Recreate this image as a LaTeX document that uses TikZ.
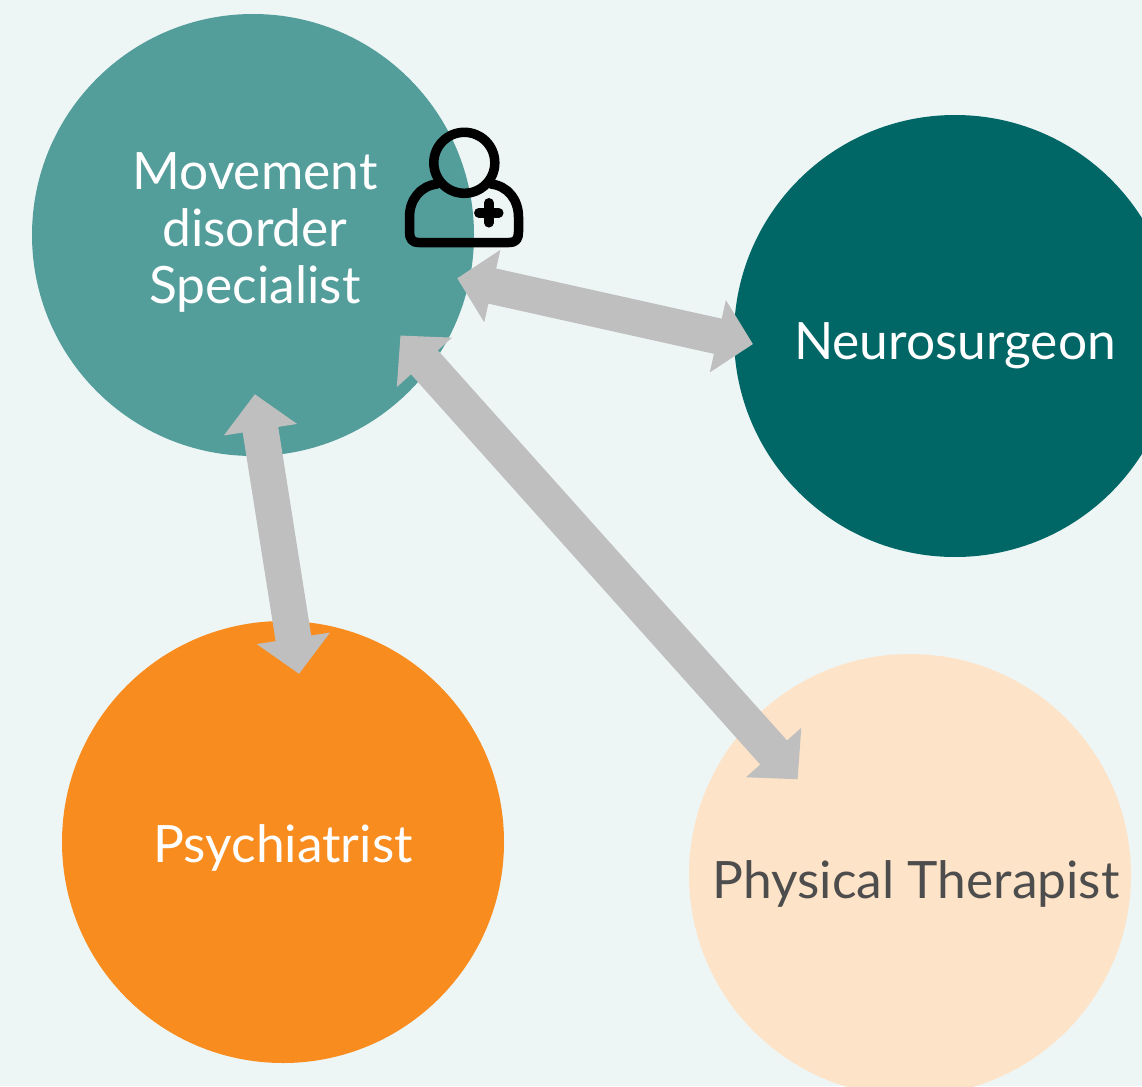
\documentclass[tikz,border=0pt]{standalone}
\usepackage{fontspec}
\setmainfont{Lato}
\usetikzlibrary{arrows.meta}
\definecolor{bgmint}{HTML}{EEF6F5}
\definecolor{mdsteal}{HTML}{539D9B}
\definecolor{neuroteal}{HTML}{006666}
\definecolor{psychorange}{HTML}{F88C1F}
\definecolor{physpeach}{HTML}{FDE3C7}
\definecolor{physgrey}{HTML}{4D4D4D}
\definecolor{linkgrey}{HTML}{BFBFBF}
\tikzset{
  role/.style={circle, minimum size=442pt, inner sep=0pt, outer sep=0pt},
  rolelabel/.style={inner sep=0pt, align=center, text=white, font=\fontsize{51.5}{57}\selectfont},
  link/.style={draw=linkgrey, line width=36pt, {Triangle[length=36pt,width=72pt]}-{Triangle[length=36pt,width=72pt]}},
  iconline/.style={draw=black, line width=9.5pt, line cap=round, line join=round}
}
\begin{document}
\begin{tikzpicture}[x=1pt,y=-1pt]
\useasboundingbox (0,0) rectangle (1142,1086);
\clip (0,0) rectangle (1142,1086);
\fill[bgmint] (0,0) rectangle (1142,1086);
\node[role, fill=mdsteal, label={[rolelabel, xshift=2pt, yshift=3pt]center:Movement\\disorder\\Specialist}] (mds) at (253,235){};
\node[role, fill=neuroteal, label={[rolelabel, yshift=-10pt]center:Neurosurgeon}] (neuro) at (955,336){};
\node[role, fill=psychorange, label={[rolelabel, yshift=-6pt]center:Psychiatrist}] (psych) at (283,842){};
\node[role, fill=physpeach, label={[rolelabel, text=physgrey, xshift=6pt, yshift=-9pt]center:Physical Therapist}] (phys) at (910,875){};
\draw[link, shorten <=-12.3pt, shorten >=-19.4pt](mds.-12.9) -- (neuro.181);
\draw[link, shorten <=-62.3pt, shorten >=-53.4pt](mds.-87) -- (psych.88.7);
\draw[link, shorten <=-43.6pt, shorten >=-73.9pt](mds.-37.2) -- (phys.137.2);
\draw[iconline] (464.3,162.8) circle (30.5);
\draw[iconline] (437,184) .. controls (420,186) and (409.5,200) .. (409.5,217) -- (409.5,232) .. controls (409.5,239) and (412,242.5) .. (419,242.5) -- (509,242.5) .. controls (516,242.5) and (518.5,239) .. (518.5,232) -- (518.5,217) .. controls (518.5,200) and (508,186) .. (491,184);
\draw[iconline] (478.8,212.8) -- (498.8,212.8);
\draw[iconline] (488.8,202.8) -- (488.8,222.8);
\end{tikzpicture}
\end{document}
